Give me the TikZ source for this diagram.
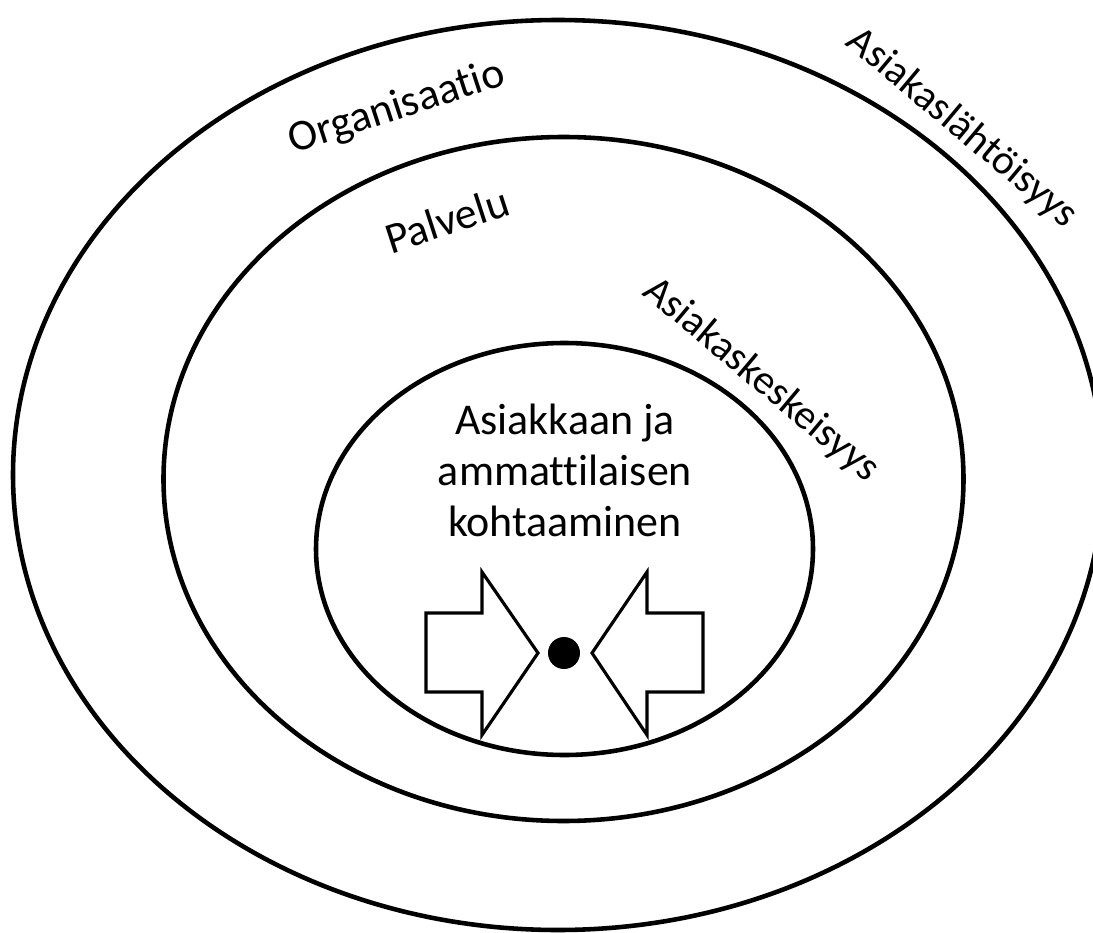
\documentclass[tikz,border=0pt]{standalone}
\usepackage{fontspec}
\setmainfont{Carlito}[Ligatures=NoCommon]
\begin{document}
\begin{tikzpicture}[x=0.02cm,y=-0.02cm,
  ring/.style={draw=black,line width=2.6pt},
  blockarrow/.style={draw=black,line width=1.8pt,fill=white,line join=miter},
  lbl/.style={font=\fontsize{25pt}{29pt}\selectfont,inner sep=0pt},
  arclbl/.style={font=\fontsize{23.5pt}{28pt}\selectfont,inner sep=0pt,rotate=-40},
  ]
\useasboundingbox (0,0) rectangle (1093,933);
\clip (0,0) rectangle (1093,933);
% rings
\draw[ring] (558,475) ellipse [x radius=545, y radius=455];
\draw[ring] (563.5,479) ellipse [x radius=400, y radius=342];
\draw[ring] (564.5,549) ellipse [x radius=248.5, y radius=206];
% block arrows
\draw[blockarrow] (426,613) -- (482,613) -- (482,572) -- (538,653) -- (482,735) -- (482,692) -- (426,692) -- cycle;
\draw[blockarrow] (703,613) -- (647,613) -- (647,572) -- (592,653) -- (647,735) -- (647,692) -- (703,692) -- cycle;
\node[circle,fill=black,minimum size=0.64cm,inner sep=0pt] (dot) at (564,653) {};
% labels
\node[lbl,rotate=18] (org) at (397,108) {Organisaatio};
\node[lbl,rotate=18] (pal) at (447,220) {Palvelu};
\node[arclbl] (lahto) at (962,128) {Asiakaslähtöisyys};
\node[arclbl] (kesk) at (761,380) {Asiakaskeskeisyys};
\node[lbl,align=center] (core) at (565,470) {Asiakkaan ja\\ammattilaisen\\kohtaaminen};
\end{tikzpicture}
\end{document}
